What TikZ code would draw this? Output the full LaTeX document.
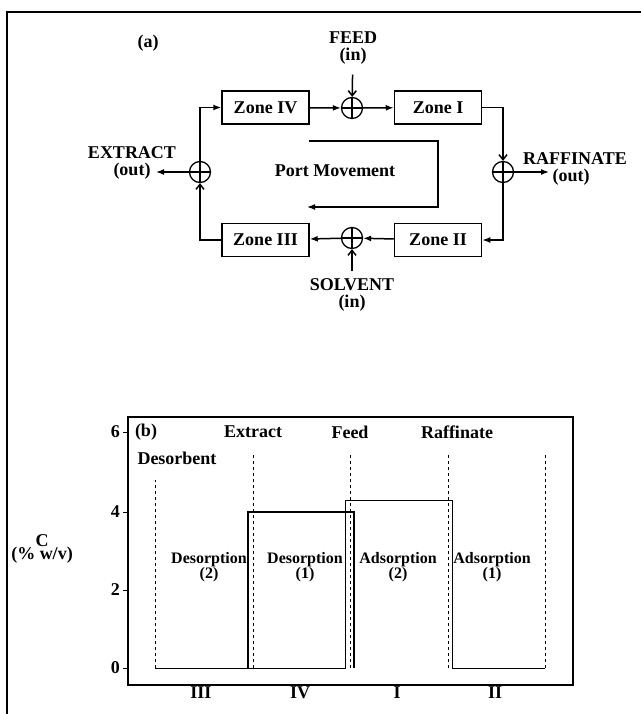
\documentclass[tikz,border=0pt]{standalone}
\usepackage{fontspec}
\setmainfont{Liberation Serif}
\usepackage{tikz}
\usetikzlibrary{arrows.meta,positioning,calc}

\begin{document}
\begin{tikzpicture}[x=1pt, y=-1pt,
    zone/.style={draw, line width=1.5pt, minimum width=87pt, minimum height=33pt, inner sep=0pt, font=\fontsize{18}{18}\selectfont\bfseries},
    junction/.style={circle, draw, line width=1.3pt, minimum size=21pt, inner sep=0pt,
        path picture={\draw[line width=1.3pt] (path picture bounding box.north) -- (path picture bounding box.south)
            (path picture bounding box.west) -- (path picture bounding box.east);}},
    flow/.style={line width=1.5pt, -{Latex[length=8pt,width=6pt]}},
    intake/.style={line width=1.5pt, -{Straight Barb[length=5pt,width=8pt]}},
    port/.style={font=\fontsize{18}{17}\selectfont\bfseries, align=center, inner sep=1pt},
    phase/.style={font=\fontsize{16}{14}\selectfont\bfseries, align=center, inner sep=1pt},
    guide/.style={line width=0.9pt, dash pattern=on 3.5pt off 2.5pt},
    thick_edge/.style={line width=2pt},
    thin_edge/.style={line width=1pt}
]
    \useasboundingbox (0,0) rectangle (641,714);
    \draw[line width=1.2pt] (7,714) -- (7,12) -- (641,12);

    % (a) the four zones
    \node[port] (taga) at (148,43) {(a)};
    \node[zone] (z4) at (265.5,107.5) {Zone IV};
    \node[zone] (z1) at (438,107.5) {Zone I};
    \node[zone] (z3) at (265.5,240) {Zone III};
    \node[zone] (z2) at (438,240) {Zone II};

    \node[junction] (jfeed) at (352,108) {};
    \node[junction] (jraff) at (503,172) {};
    \node[junction] (jsolv) at (352,238) {};
    \node[junction] (jext) at (200,172) {};

    \node[port] (feed) at (353,48) {FEED\\(in)};
    \node[port] (solvent) at (352,295) {SOLVENT\\(in)};
    \node[port] (extract) at (132,163) {EXTRACT\\(out)};
    \node[port] (raff) at (575,169) {RAFFINATE\\\hspace*{-8pt}(out)};
    \coordinate (extractend) at (156,172);
    \coordinate (raffend) at (549,172);

    \draw[flow] (z4) -- (jfeed);
    \draw[flow] (jfeed) -- (z1);
    \draw[intake] (z1.east) -| (jraff);
    \draw[flow] (jraff) |- (z2);
    \draw[flow] (z2) -- (jsolv);
    \draw[flow] (jsolv) -- (z3);
    \draw[intake] (z3.west) -| (jext);
    \draw[flow] (jext) |- (z4);

    \draw[intake, shorten <=9pt] (feed) -- (jfeed);
    \draw[intake, shorten <=6pt] (solvent) -- (jsolv);
    \draw[flow] (jext) -- (extractend);
    \draw[flow] (jraff) -- (raffend);

    \node[port] (pm) at (335,171) {Port Movement};
    \coordinate (pmstart) at (309,141);
    \coordinate (pmend) at (307,207);
    \draw[flow] (pmstart) -- ++(129,0) |- (pmend);

    % (b) concentration profile
    \draw[line width=1.2pt] (128,417) rectangle (573,685);
    \foreach \v/\y in {0/668,2/590,4/512,6/432} {
        \draw[line width=1pt] (123,\y) -- (128,\y);
        \node[port, anchor=east] (tick\v) at (121,\y) {\v};
    }
    \node[port, font=\fontsize{18}{13}\selectfont\bfseries] (caxis) at (42,549) {C\\(\% w/v)};

    \draw[guide] (155,668) -- (155,480);
    \foreach \x in {253,350,448,545}
        \draw[guide] (\x,668) -- (\x,453);

    \draw[thin_edge] (155,668) -- (345,668) -- (345,500) -- (452,500) -- (452,668) -- (545,668);
    \draw[thick_edge] (248,668) -- (248,512) -- (354,512) -- (354,668);

    \node[port] (tagb) at (146,432) {(b)};
    \node[port] (lextract) at (253,432) {Extract};
    \node[port] (lfeed) at (350,432) {Feed};
    \node[port] (lraff) at (457,432) {Raffinate};
    \node[port] (ldes) at (177,458) {Desorbent};

    \node[phase] (d2) at (209,567) {Desorption\\(2)};
    \node[phase] (d1) at (305,567) {Desorption\\(1)};
    \node[phase] (a2) at (398,567) {Adsorption\\(2)};
    \node[phase] (a1) at (492,567) {Adsorption\\(1)};

    \node[port] (r3) at (201,693) {III};
    \node[port] (r4) at (300,693) {IV};
    \node[port] (r1) at (397,693) {I};
    \node[port] (r2) at (495,693) {II};
\end{tikzpicture}
\end{document}
